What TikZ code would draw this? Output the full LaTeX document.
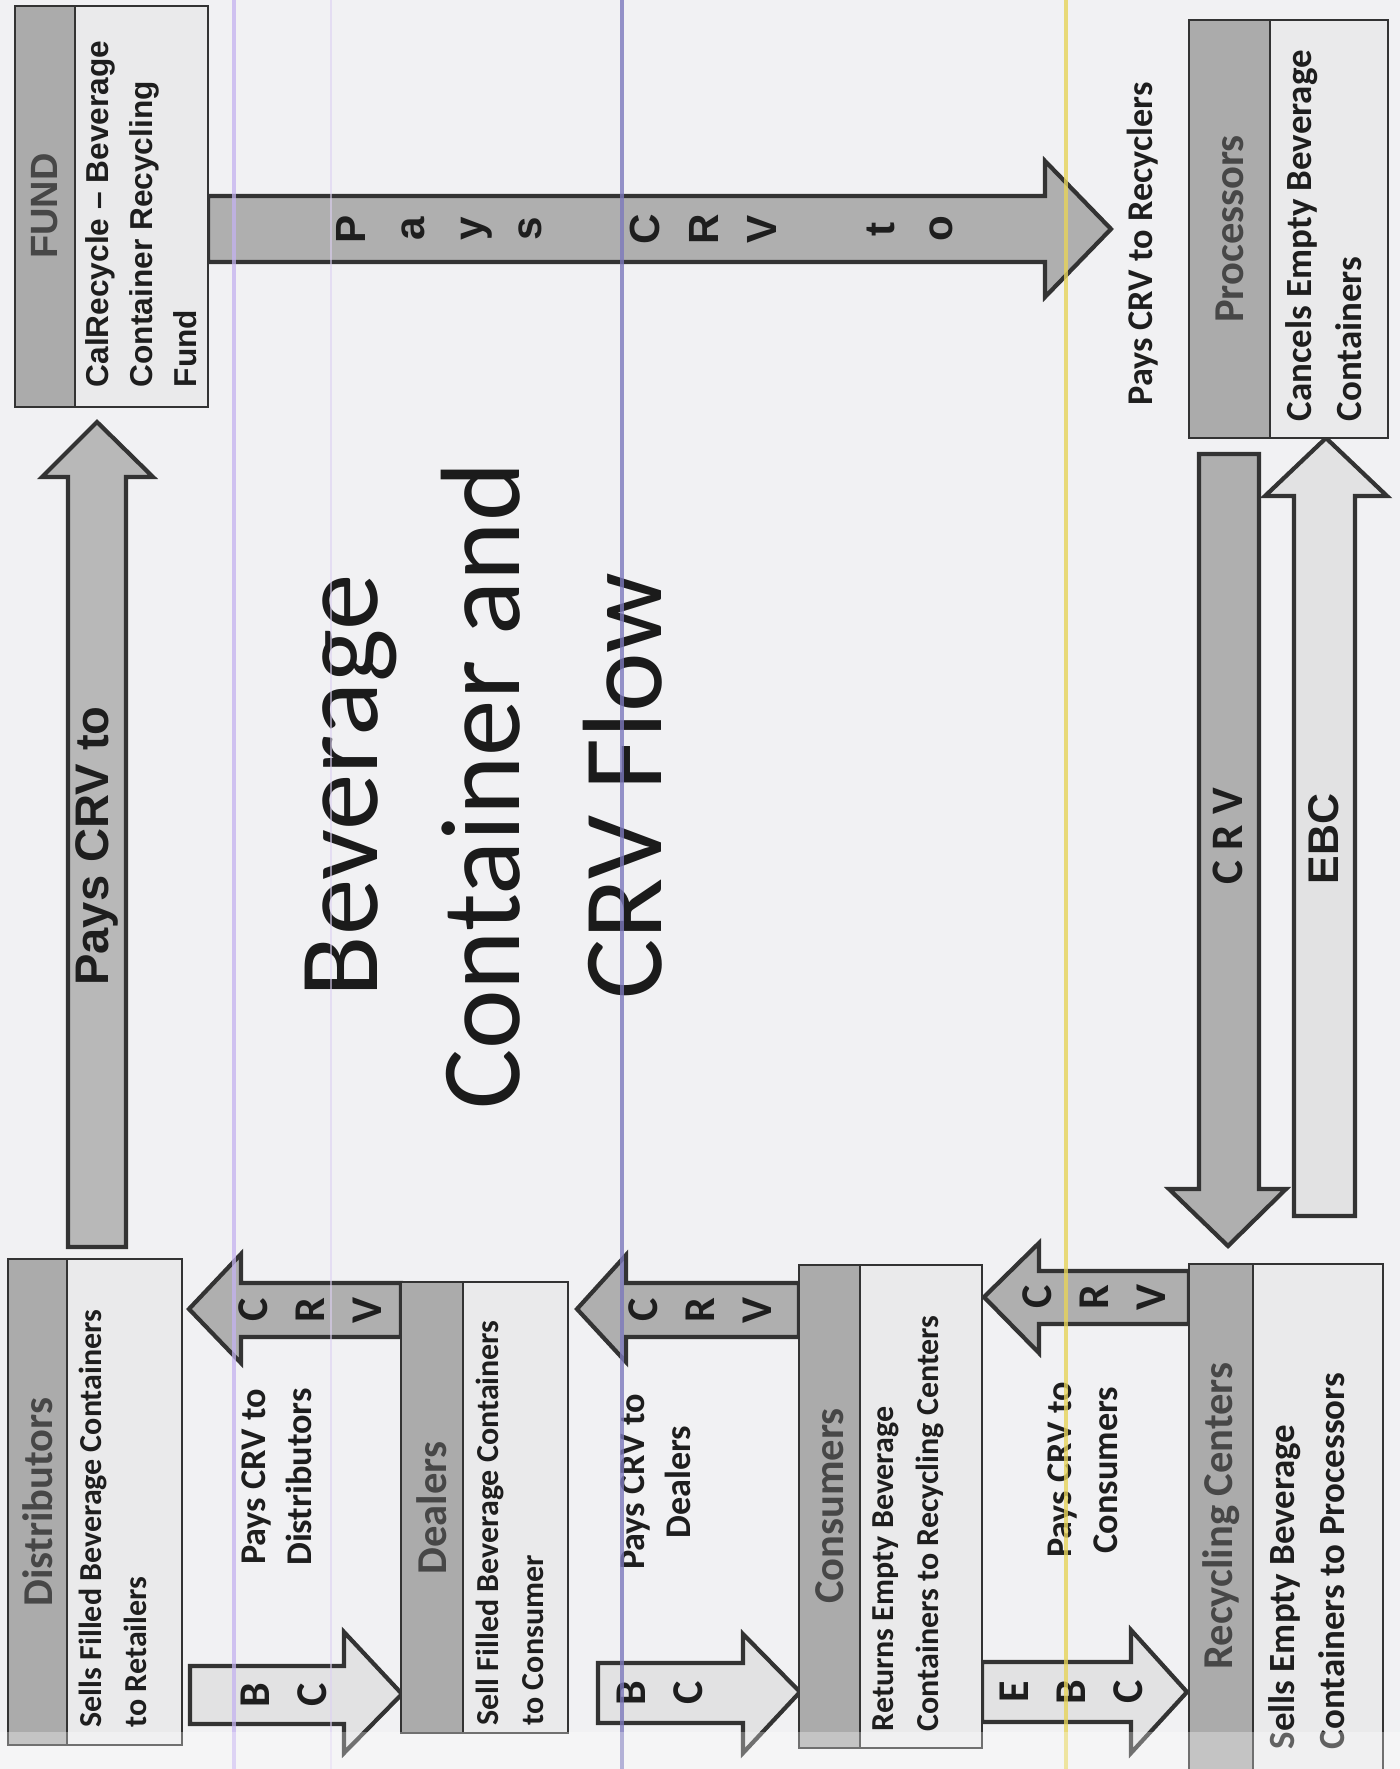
\documentclass[tikz,border=0pt]{standalone}
\usepackage{fontspec}
\setmainfont{Carlito}
\newfontfamily\arialf{Liberation Sans}

\definecolor{pagebg}{HTML}{F1F1F3}
\definecolor{headgray}{HTML}{ABABAB}
\definecolor{bodygray}{HTML}{EAEAEB}
\definecolor{edge}{HTML}{333333}
\definecolor{darkfill}{HTML}{AFAFAF}
\definecolor{midfill}{HTML}{B8B8B8}
\definecolor{lightfill}{HTML}{E2E2E3}
\definecolor{headtxt}{HTML}{474747}
\definecolor{bodytxt}{HTML}{1E1E1E}
\definecolor{lilac}{HTML}{C4B2F0}
\definecolor{palelilac}{HTML}{DCD0F2}
\definecolor{inkblue}{HTML}{7C78BC}
\definecolor{paleyellow}{HTML}{E6D35A}

\newcommand\fsz[2]{\fontsize{#1}{#2}\selectfont}

\begin{document}
\begin{tikzpicture}[x=0.01cm,y=-0.01cm,
  boxbody/.style={fill=bodygray,draw=edge,line width=0.7pt},
  boxhead/.style={fill=headgray,draw=edge,line width=0.7pt},
  darkarrow/.style={fill=darkfill,draw=edge,line width=1.2pt,line join=miter},
  midarrow/.style={fill=midfill,draw=edge,line width=1.2pt,line join=miter},
  lightarrow/.style={fill=lightfill,draw=edge,line width=1.2pt,line join=miter},
  headtext/.style={rotate=90,inner sep=0pt,text=headtxt,font=\bfseries\fsz{12.1}{14}},
  bodytext/.style={rotate=90,inner sep=0pt,anchor=north west,align=left,text=bodytxt,font=\bfseries\fsz{9.1}{12.8}},
  bigbodytext/.style={rotate=90,inner sep=0pt,anchor=north west,align=left,text=bodytxt,font=\bfseries\fsz{10.5}{14.3}},
  lbltext/.style={rotate=90,inner sep=0pt,align=center,text=bodytxt,font=\bfseries\fsz{10.3}{13.1}},
  stackletters/.style={rotate=90,inner sep=0pt,align=center,text=bodytxt,font=\bfseries\fsz{12.5}{16.2}},
  titletext/.style={rotate=90,inner sep=0pt,align=center,text=bodytxt!90!black,font=\fsz{32.1}{40.4}},
]
\useasboundingbox (0,0) rectangle (1400,1769);
\fill[pagebg] (0,0) rectangle (1400,1769);

% ---------- block arrows ----------
% Distributors up to the fund
\draw[midarrow] (68,1247) -- (68,477) -- (42,477) -- (97,422) -- (153,477) -- (126,477) -- (126,1247) -- cycle;
% fund across to the recyclers
\draw[darkarrow] (208,196) -- (1045,196) -- (1045,161) -- (1111,229) -- (1045,297) -- (1045,262) -- (208,262) -- cycle;
% processors down to recycling centers (CRV)
\draw[darkarrow] (1199,454) -- (1259,454) -- (1259,1189) -- (1286,1189) -- (1228,1246) -- (1169,1189) -- (1199,1189) -- cycle;
% recycling centers up to processors (EBC)
\draw[lightarrow] (1294,1216) -- (1294,496) -- (1265,496) -- (1326,438) -- (1387,496) -- (1355,496) -- (1355,1216) -- cycle;
% distributors -> dealers (BC)
\draw[lightarrow] (190,1666) -- (344,1666) -- (344,1632) -- (402,1694) -- (344,1753) -- (344,1724) -- (190,1724) -- cycle;
% dealers -> distributors (CRV)
\draw[darkarrow] (401,1283) -- (241,1283) -- (241,1254) -- (189,1309) -- (241,1363) -- (241,1337) -- (401,1337) -- cycle;
% dealers -> consumers (BC)
\draw[lightarrow] (598,1663) -- (743,1663) -- (743,1634) -- (800,1692) -- (743,1753) -- (743,1723) -- (598,1723) -- cycle;
% consumers -> dealers (CRV)
\draw[darkarrow] (799,1283) -- (626,1283) -- (626,1255) -- (577,1309) -- (626,1362) -- (626,1337) -- (799,1337) -- cycle;
% consumers -> recycling centers (EBC)
\draw[lightarrow] (982,1662) -- (1131,1662) -- (1131,1630) -- (1187,1692) -- (1131,1753) -- (1131,1722) -- (982,1722) -- cycle;
% recycling centers -> consumers (CRV)
\draw[darkarrow] (1189,1271) -- (1039,1271) -- (1039,1243) -- (984,1297) -- (1039,1353) -- (1039,1324) -- (1189,1324) -- cycle;

% ---------- boxes ----------
\draw[boxbody] (15,6) rectangle (208,407);
\draw[boxhead] (15,6) rectangle (75,407);
\draw[boxbody] (1189,20) rectangle (1388,438);
\draw[boxhead] (1189,20) rectangle (1270,438);
\draw[boxbody] (8,1259) rectangle (182,1745);
\draw[boxhead] (8,1259) rectangle (67,1745);
\draw[boxbody] (401,1282) rectangle (568,1733);
\draw[boxhead] (401,1282) rectangle (463,1733);
\draw[boxbody] (799,1265) rectangle (982,1748);
\draw[boxhead] (799,1265) rectangle (860,1748);
\draw[boxbody] (1189,1264) rectangle (1383,1780);
\draw[boxhead] (1189,1264) rectangle (1253,1780);

% ---------- box texts ----------
\node[headtext,font=\arialf\bfseries\fsz{10.8}{13}] (fundh) at (45,206) {FUND};
\node[bodytext,font=\arialf\bfseries\fsz{9.0}{12.5}] (fundb) at (85,388) {CalRecycle – Beverage\\Container Recycling\\Fund};
\node[headtext] (proch) at (1230,229) {Processors};
\node[bigbodytext] (procb) at (1285,422) {Cancels Empty Beverage\\Containers};
\node[headtext] (disth) at (38,1502) {Distributors};
\node[bodytext] (distb) at (78,1728) {Sells Filled Beverage Containers\\to Retailers};
\node[headtext] (dealh) at (432,1508) {Dealers};
\node[bodytext] (dealb) at (475,1726) {Sell Filled Beverage Containers\\to Consumer};
\node[headtext] (consh) at (830,1506) {Consumers};
\node[bodytext] (consb) at (872,1732) {Returns Empty Beverage\\Containers to Recycling Centers};
\node[headtext] (recyh) at (1221,1516) {Recycling Centers};
\node[bigbodytext] (recyb) at (1268,1750) {Sells Empty Beverage\\Containers to Processors};

% ---------- arrow texts ----------
\node[rotate=90,inner sep=0pt,text=bodytxt,font=\arialf\bfseries\fsz{13.4}{15}] (uptxt) at (97,846) {Pays CRV to};
\node[stackletters,font=\arialf\bfseries\fsz{12}{16.7}] (acrosstxt) at (645,229)
  {P\\a\\y\\s\\\mbox{}\\C\\R\\V\\\mbox{}\\t\\o};
\node[rotate=90,inner sep=0pt,text=bodytxt,font=\bfseries\fsz{12.8}{15}] (crvtxt) at (1228,836) {C R V};
\node[rotate=90,inner sep=0pt,text=bodytxt,font=\arialf\bfseries\fsz{12.2}{15}] (ebctxt) at (1324,839) {EBC};
\node[stackletters] (bc1) at (284,1695) {B\\C};
\node[stackletters] (crv1) at (310,1310) {C\\R\\V};
\node[stackletters] (bc2) at (660,1693) {B\\C};
\node[stackletters] (crv2) at (700,1310) {C\\R\\V};
\node[stackletters] (ebc1) at (1071,1692) {E\\B\\C};
\node[stackletters] (crv3) at (1094,1297) {C\\R\\V};

% ---------- labels ----------
\node[lbltext] (lbl1) at (277,1477) {Pays CRV to\\Distributors};
\node[lbltext] (lbl2) at (656,1482) {Pays CRV to\\Dealers};
\node[lbltext] (lbl3) at (1083,1470) {Pays CRV to\\Consumers};
\node[lbltext] (lbl4) at (1143,244) {Pays CRV to Recyclers};

% ---------- title ----------
\node[titletext] (ttl) at (484,786) {Beverage\\Container and\\CRV Flow};

% ---------- ruled lines of the sheet ----------
\draw[lilac,opacity=.75,line width=1.1pt] (234,0) -- (234,1769);
\draw[palelilac,opacity=.6,line width=0.7pt] (331,0) -- (331,1769);
\draw[inkblue,opacity=.8,line width=0.9pt] (622,0) -- (622,1769);
\draw[paleyellow,opacity=.8,line width=1.1pt] (1066,0) -- (1066,1769);

% lighter strip along the lower edge of the sheet
\fill[white,opacity=.3] (0,1732) rectangle (1400,1769);
\end{tikzpicture}
\end{document}
